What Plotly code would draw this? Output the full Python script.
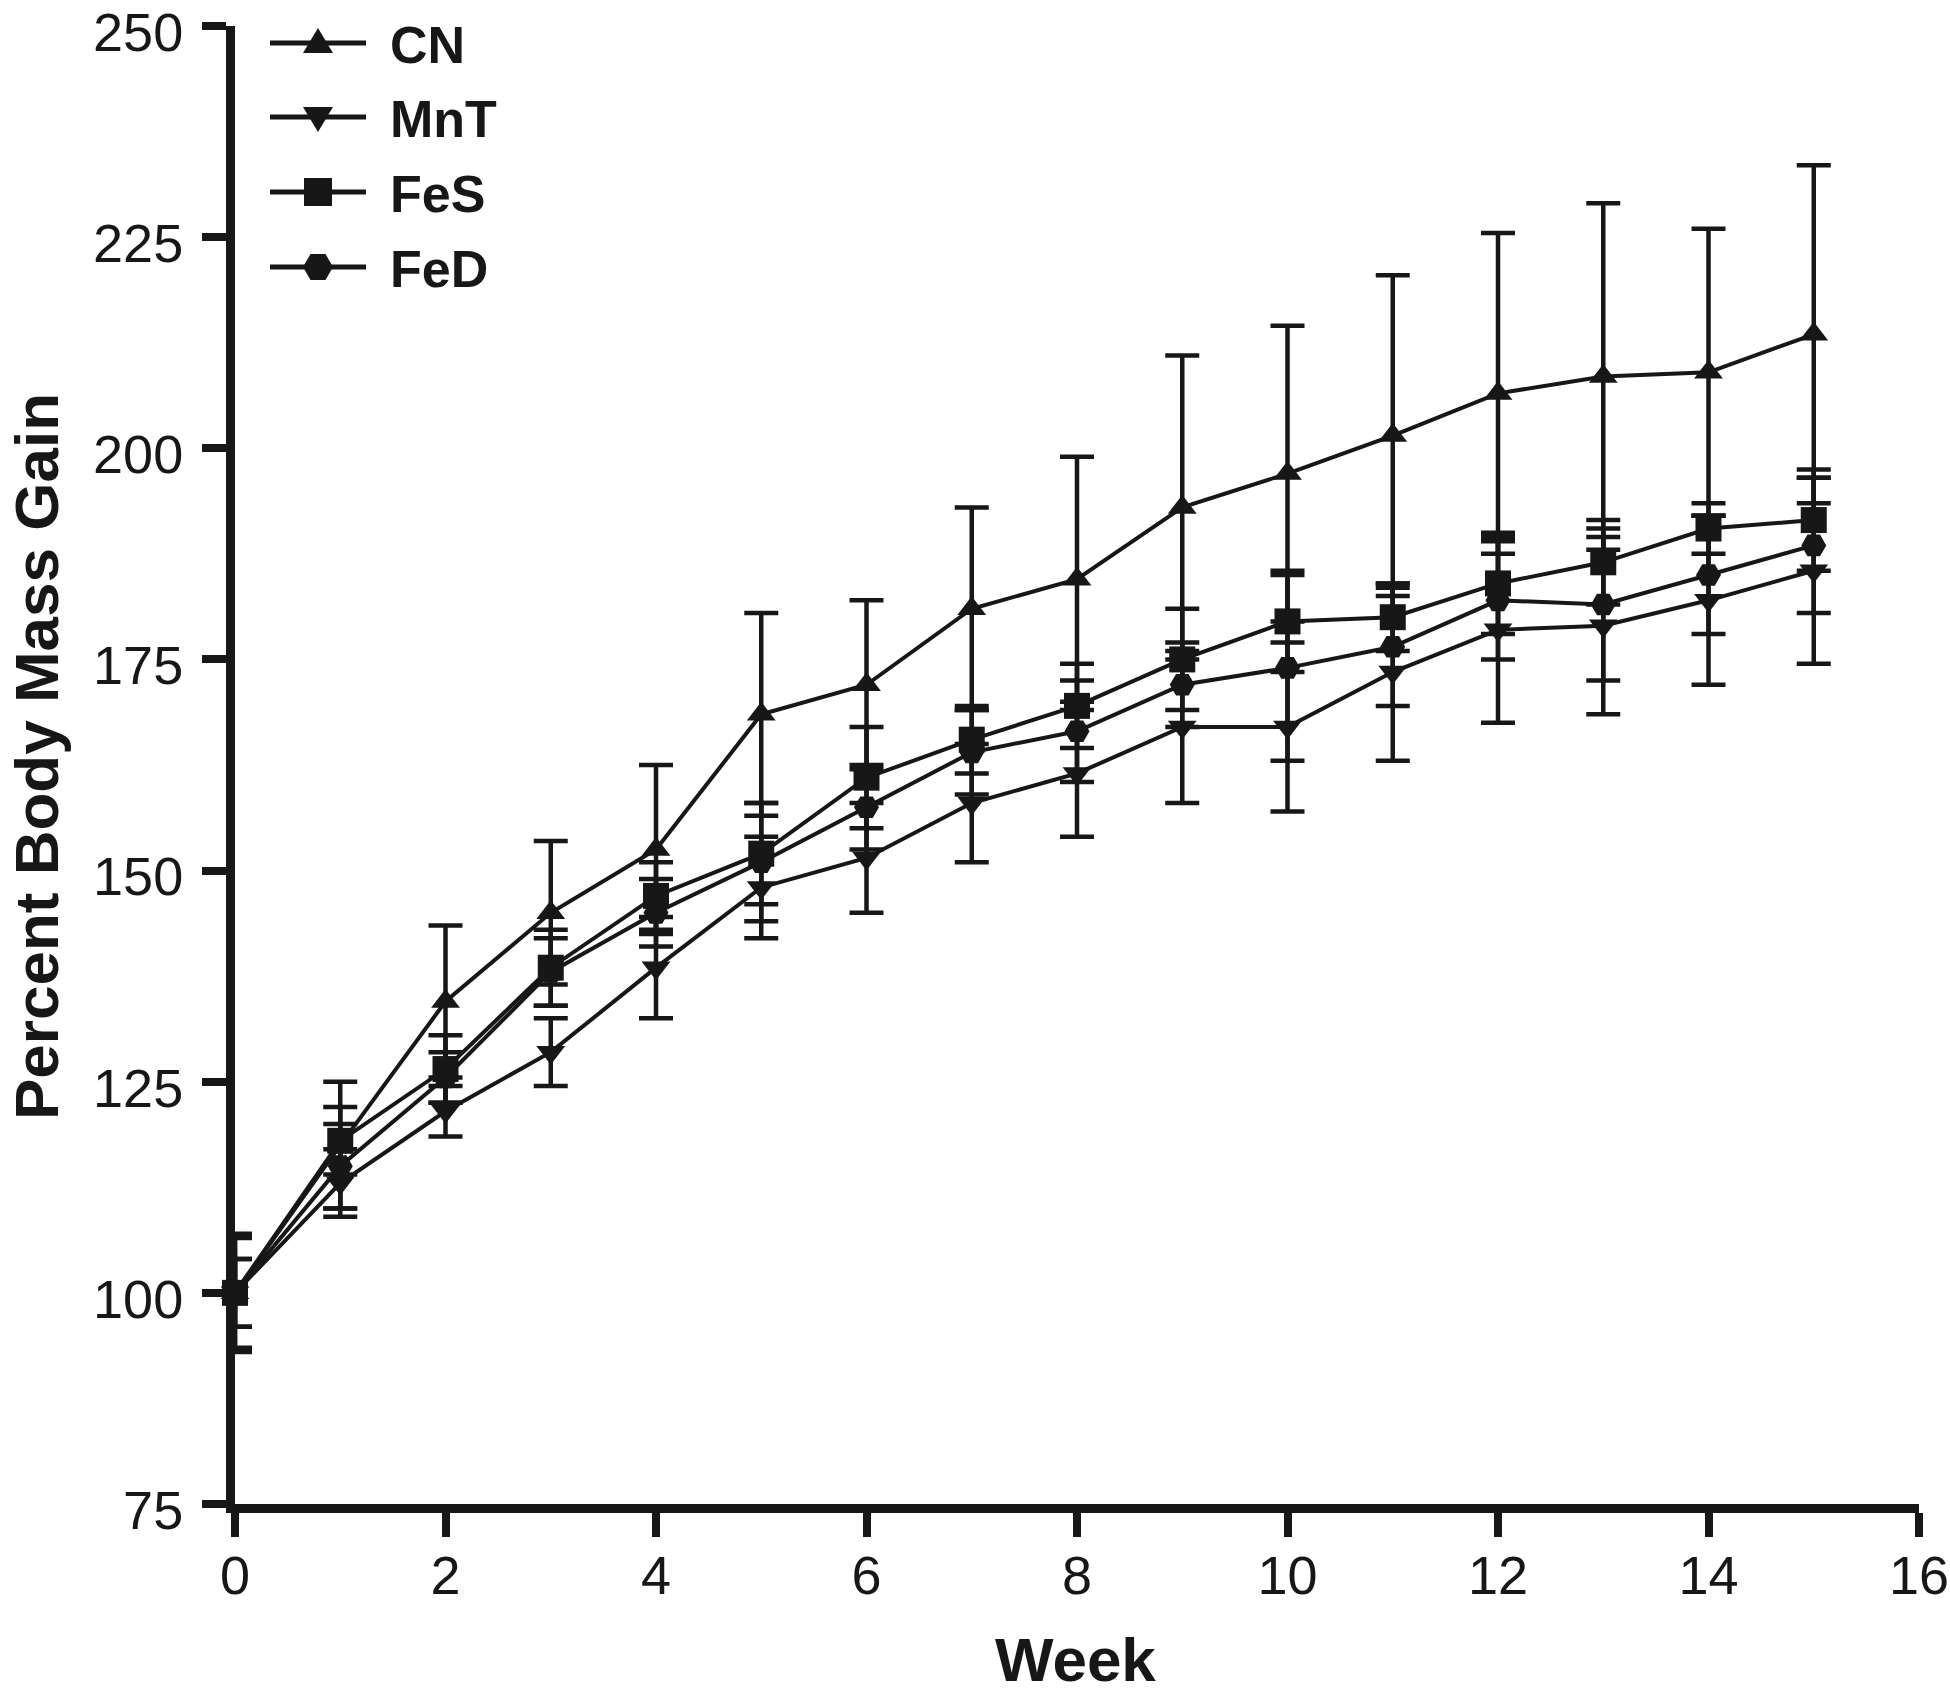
import plotly.graph_objects as go

weeks = list(range(16))

cn = [100, 117.5, 134.5, 145, 152.5, 168.5, 172, 181, 184.5, 193, 197, 201.5, 206.5, 208.5, 209, 213.5]
cn_err = [4, 7.5, 9, 8.5, 10, 12, 10, 12, 14.5, 18, 17.5, 19, 19, 20.5, 17, 20]

mnt = [100, 113, 121.5, 128.5, 138.5, 148, 151.5, 158, 161.5, 167, 167, 173.5, 178.5, 179, 182, 185.5]
mnt_err = [6.5, 4, 3, 4, 6, 6, 6.5, 7, 7.5, 9, 10, 10.5, 11, 10.5, 10, 11]

fes = [100, 118, 126.5, 138.5, 147, 152, 161, 165.5, 169.5, 175, 179.5, 180, 184, 186.5, 190.5, 191.5]
fes_err = [4, 4, 4, 4.5, 4, 6, 6, 4, 5, 6, 6, 4, 6, 5, 3, 6]

fed = [100, 115, 125.5, 138, 145, 151, 157.5, 164, 166.5, 172, 174, 176.5, 182, 181.5, 185, 188.5]
fed_err = [7, 5, 3, 4, 4, 7, 5, 5, 6, 5, 11, 7, 7, 9, 7, 8]

series_names = ["CN", "MnT", "FeS", "FeD"]
series_values = [cn, mnt, fes, fed]
series_errors = [cn_err, mnt_err, fes_err, fed_err]

x_ticks = [0, 2, 4, 6, 8, 10, 12, 14, 16]
y_ticks = [75, 100, 125, 150, 175, 200, 225, 250]

# ---- styling ----
INK = "#171717"
FONT = "Liberation Sans, Arial, sans-serif"
symbols = ["triangle-up", "triangle-down", "square", "hexagon2"]
sizes = [25, 25, 26, 25]
# legend key glyphs (pixel paths around the key centre, y up)
key_paths = [
    "M -15,-10 L 15,-10 L 0,15 Z",
    "M -15,10 L 15,10 L 0,-15 Z",
    "M -14,-14 L 14,-14 L 14,14 L -14,14 Z",
    "M -15,0 L -7.5,13 L 7.5,13 L 15,0 L 7.5,-13 L -7.5,-13 Z",
]

L, R, T, B = 235, 1950 - 1919, 26, 1696 - 1504
plot_w, plot_h = 1950 - L - R, 1696 - T - B


def px_x(px):
    return (px - L) / plot_w


def px_y(py):
    return (1696 - B - py) / plot_h


fig = go.Figure()
for name, vals, errs, sym, sz in zip(series_names, series_values, series_errors, symbols, sizes):
    fig.add_trace(go.Scatter(
        x=weeks, y=vals, name=name, mode="lines+markers",
        line=dict(color=INK, width=4),
        marker=dict(symbol=sym, size=sz, color=INK, line=dict(width=0)),
        error_y=dict(type="data", array=errs, visible=True, color=INK,
                     thickness=4.5, width=17),
        cliponaxis=False, showlegend=False,
    ))

axis_common = dict(
    showline=True, linewidth=9, linecolor=INK, ticks="outside",
    ticklen=24, tickwidth=8, tickcolor=INK, showgrid=False, zeroline=False,
    tickfont=dict(family=FONT, size=54, color=INK),
    ticklabeloverflow="allow", automargin=False,
)

shapes = []
annotations = []
legend_rows = [43, 117, 192, 267]
key_cx, key_half, text_x = 318, 48, 388
for name, row, path in zip(series_names, legend_rows, key_paths):
    shapes.append(dict(type="line", xref="paper", yref="paper",
                       xsizemode="pixel", ysizemode="pixel",
                       xanchor=px_x(key_cx), yanchor=px_y(row),
                       x0=-key_half, x1=key_half, y0=0, y1=0,
                       line=dict(color=INK, width=5)))
    shapes.append(dict(type="path", xref="paper", yref="paper",
                       xsizemode="pixel", ysizemode="pixel",
                       xanchor=px_x(key_cx), yanchor=px_y(row),
                       path=path, fillcolor=INK, line=dict(width=0)))
    annotations.append(dict(text="<b>%s</b>" % name, xref="paper", yref="paper",
                            x=px_x(text_x), y=px_y(row + 2), xanchor="left", yanchor="middle",
                            showarrow=False, font=dict(family=FONT, size=52, color=INK)))

annotations.append(dict(text="<b>Week</b>", xref="paper", yref="paper",
                        x=px_x(1075), y=px_y(1659), xanchor="center", yanchor="middle",
                        showarrow=False, font=dict(family=FONT, size=62, color=INK)))
annotations.append(dict(text="<b>Percent Body Mass Gain</b>", xref="paper", yref="paper",
                        x=px_x(36), y=px_y(757), xanchor="center", yanchor="middle",
                        textangle=-90, showarrow=False,
                        font=dict(family=FONT, size=62, color=INK)))

fig.update_layout(
    width=1950, height=1696,
    margin=dict(l=L, r=R, t=T, b=B, autoexpand=False),
    paper_bgcolor="white", plot_bgcolor="white",
    showlegend=False,
    xaxis=dict(range=[0, 16], tickvals=x_ticks, ticklabelstandoff=-8, **axis_common),
    yaxis=dict(range=[75, 250], tickvals=y_ticks, ticklabelstandoff=8,
               ticklabelshift=6, **axis_common),
    shapes=shapes,
    annotations=annotations,
)

fig.write_html("out.html", config={"displayModeBar": False},
               post_script="document.body.style.margin='0px';document.body.style.overflow='hidden';")
